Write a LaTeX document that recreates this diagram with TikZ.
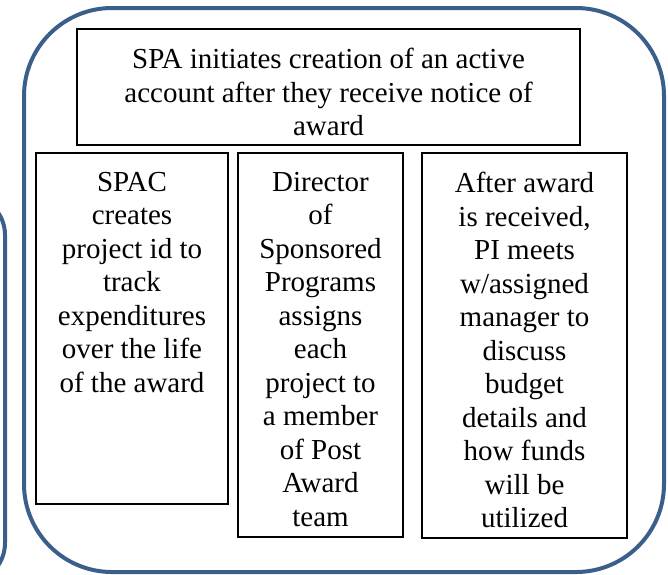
\documentclass[tikz,border=0pt]{standalone}
\usepackage{fontspec}
\setmainfont{Liberation Serif}
\newfontfamily\timesfont{Liberation Serif}
\definecolor{frameblue}{RGB}{58,95,139}

\begin{document}
\begin{tikzpicture}[x=1pt, y=-1pt,
    frame/.style={draw=frameblue, line width=4pt, rounded corners=88pt},
    box/.style={draw, line width=1.6pt, inner sep=0pt, outer sep=0pt},
    txt/.style={anchor=north, inner sep=0pt, align=center, yshift=-19pt,
      font=\timesfont\fontsize{29}{33.5}\selectfont}]
  \useasboundingbox (0,0) rectangle (668,574);
  \clip (0,0) rectangle (668,574);
  % outer frames
  \draw[frame, rounded corners=40pt] (-100,195) rectangle (5,583);
  \draw[frame] (24,8) rectangle (664,572);
  % boxes
  \node[box, minimum width=503pt, minimum height=116pt] (spa) at (328.5,87) {};
  \node[box, minimum width=192pt, minimum height=351pt] (spac) at (132,328.5) {};
  \node[box, minimum width=165pt, minimum height=384pt] (director) at (320.5,345) {};
  \node[box, minimum width=205pt, minimum height=385pt] (after) at (524.5,345.5) {};
  % texts
  \node[txt] (spa text) at (spa.north)
    {SPA initiates creation of an active\\account after they receive notice of\\award};
  \node[txt] (spac text) at (spac.north)
    {SPAC\\creates\\project id to\\track\\expenditures\\over the life\\of the award};
  \node[txt] (director text) at (director.north)
    {Director\\of\\Sponsored\\Programs\\assigns\\each\\project to\\a member\\of Post\\Award\\team};
  \node[txt] (after text) at (after.north)
    {After award\\is received,\\PI meets\\w/assigned\\manager to\\discuss\\budget\\details and\\how funds\\will be\\utilized};
\end{tikzpicture}
\end{document}
